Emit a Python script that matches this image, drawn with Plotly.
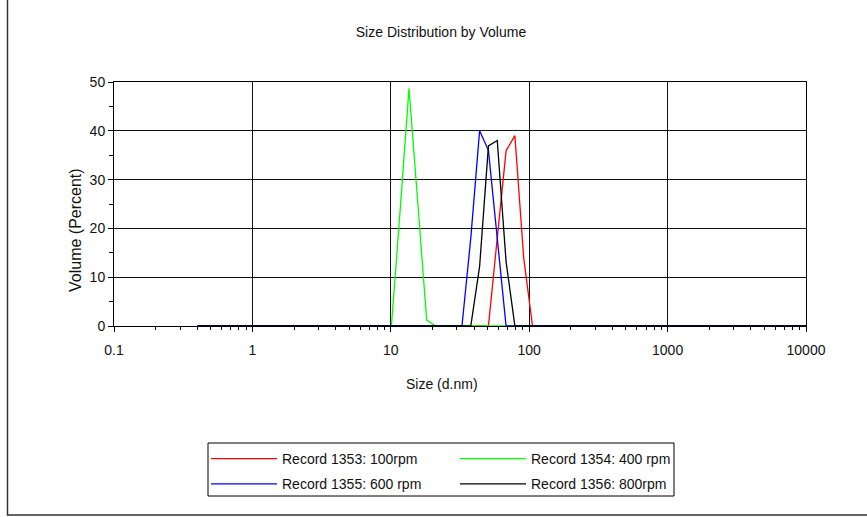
import plotly.graph_objects as go

# Zetasizer size bins (d.nm)
sizes = [0.4, 0.4632, 0.5365, 0.6213, 0.7195, 0.8332, 0.9649, 1.117, 1.294, 1.499,
         1.736, 2.010, 2.328, 2.696, 3.122, 3.615, 4.187, 4.849, 5.615, 6.503,
         7.531, 8.721, 10.10, 11.70, 13.54, 15.69, 18.17, 21.04, 24.36, 28.21,
         32.67, 37.84, 43.82, 50.75, 58.77, 68.06, 78.82, 91.28, 105.7, 122.4,
         141.8, 164.2, 190.1, 220.2, 255.0, 295.3, 342.0, 396.1, 458.7, 531.2,
         615.1, 712.4, 825.0, 955.4, 1106, 1281, 1484, 1718, 1990, 2305,
         2669, 3091, 3580, 4145, 4801, 5560, 6439, 7456, 8635, 10000]

# Non-zero volume (%) values per record, keyed by size bin
rec1353 = {50.75: 0.0, 58.77: 18.0, 68.06: 35.9, 78.82: 39.0, 91.28: 13.9, 105.7: 0.0}
rec1354 = {10.10: 0.0, 11.70: 24.0, 13.54: 48.7, 15.69: 25.0, 18.17: 1.2, 21.04: 0.0}
rec1355 = {32.67: 0.0, 37.84: 18.0, 43.82: 40.0, 50.75: 36.0, 58.77: 18.3, 68.06: 0.0}
rec1356 = {37.84: 0.0, 43.82: 12.2, 50.75: 36.9, 58.77: 38.0, 68.06: 13.2, 78.82: 0.0}

names = ["Record 1353: 100rpm", "Record 1354: 400 rpm",
         "Record 1355: 600 rpm", "Record 1356: 800rpm"]
records = [rec1353, rec1354, rec1355, rec1356]
colors = ["#ff0000", "#00ff00", "#0000ff", "#000000"]
legends = ["legend", "legend2", "legend", "legend2"]

x_ticks = [0.1, 1, 10, 100, 1000, 10000]
x_ticktext = ["0.1", "1", "10", "100", "1000", "10000"]
y_ticks = [0, 10, 20, 30, 40, 50]

fig = go.Figure()
for i, (nm, rec, col, lg) in enumerate(zip(names, records, colors, legends)):
    ys = [rec.get(s, 0.0) for s in sizes]
    fig.add_trace(go.Scatter(x=sizes, y=ys, mode="lines", name=nm,
                             line=dict(color=col, width=1.3),
                             legend=lg, legendgroup=f"g{i}"))

FONT = "Liberation Sans, Arial, sans-serif"
L, R, T, B = 114, 61, 82, 191
W, H = 867, 517
pw, ph = W - L - R, H - T - B

def px(x):
    return (x - L) / pw

def py(y):
    return (H - B - y) / ph

minor_x = [m * 10 ** e for e in range(-1, 4) for m in range(2, 10)]

fig.update_layout(
    width=W, height=H,
    margin=dict(l=L, r=R, t=T, b=B),
    paper_bgcolor="white", plot_bgcolor="white",
    font=dict(family=FONT, size=14, color="#111"),
    title=dict(text="Size Distribution by Volume", x=441 / W, xanchor="center",
               y=1 - 32 / H, yanchor="middle", font=dict(size=14, family=FONT)),
    xaxis=dict(type="log", range=[-1, 4], tickvals=x_ticks, ticktext=x_ticktext,
               showgrid=True, gridcolor="#111", gridwidth=1,
               showline=True, linecolor="#000", linewidth=1, mirror=True,
               ticks="outside", ticklen=5, tickcolor="#000",
               ticklabelstandoff=6, tickfont=dict(size=14),
               minor=dict(tickvals=minor_x, ticks="outside", ticklen=3,
                          tickcolor="#000", showgrid=False),
               zeroline=False),
    yaxis=dict(range=[0, 50], tickvals=y_ticks,
               showgrid=True, gridcolor="#111", gridwidth=1,
               showline=True, linecolor="#000", linewidth=1, mirror=True,
               ticks="outside", ticklen=5, tickcolor="#000", tickfont=dict(size=14),
               minor=dict(tickvals=[5, 15, 25, 35, 45], ticks="outside", ticklen=4,
                          tickcolor="#000", showgrid=False),
               zeroline=False),
    legend=dict(x=px(206), y=py(443), xanchor="left", yanchor="top",
                bgcolor="rgba(0,0,0,0)", borderwidth=0, itemwidth=66,
                traceorder="grouped", tracegroupgap=4,
                font=dict(size=14, family=FONT)),
    legend2=dict(x=px(455), y=py(443), xanchor="left", yanchor="top",
                 bgcolor="rgba(0,0,0,0)", borderwidth=0, itemwidth=66,
                 traceorder="grouped", tracegroupgap=4,
                 font=dict(size=14, family=FONT)),
    showlegend=True,
)

# axis titles
fig.add_annotation(text="Size (d.nm)", xref="paper", yref="paper",
                   x=px(442), y=py(384), xanchor="center", yanchor="middle",
                   showarrow=False, font=dict(size=14, family=FONT))
fig.add_annotation(text="Volume (Percent)", xref="paper", yref="paper",
                   x=px(75), y=py(230), xanchor="center", yanchor="middle",
                   textangle=-90, showarrow=False, font=dict(size=16, family=FONT))

# legend frame
fig.add_shape(type="rect", xref="paper", yref="paper",
              x0=px(208), x1=px(674), y0=py(496), y1=py(443),
              line=dict(color="#000", width=1), fillcolor="rgba(0,0,0,0)", layer="above")
# figure frame (left and bottom edges visible)
fig.add_shape(type="rect", xref="paper", yref="paper",
              x0=px(7.5), x1=px(880), y0=py(515), y1=py(-20),
              line=dict(color="#333", width=1.5), fillcolor="rgba(0,0,0,0)", layer="above")

fig.write_html("out.html")
